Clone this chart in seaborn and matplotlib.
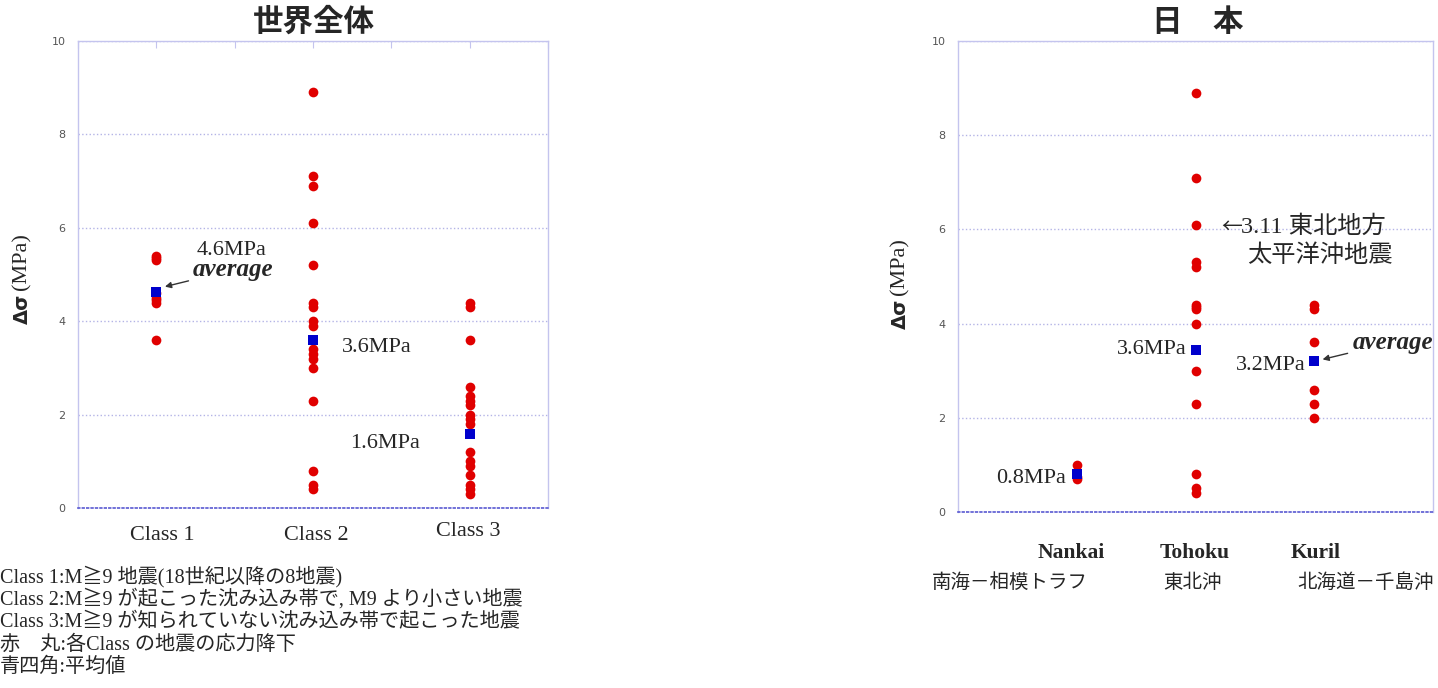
import matplotlib
matplotlib.use("Agg")
import matplotlib.pyplot as plt
import seaborn as sns
import pandas as pd

# --- data ------------------------------------------------------------------
class_names = ["Class 1", "Class 2", "Class 3"]
class1_vals = [5.4, 5.35, 5.3, 4.6, 4.5, 4.45, 4.4, 3.6]
class2_vals = [8.9, 7.1, 6.9, 6.1, 5.2, 4.4, 4.3, 4.0, 3.9, 3.4, 3.3, 3.2, 3.0, 2.3, 0.8, 0.5, 0.4]
class3_vals = [4.4, 4.3, 3.6, 2.6, 2.4, 2.3, 2.2, 2.0, 1.9, 1.8, 1.2, 1.0, 0.9, 0.7, 0.5, 0.4, 0.3]
world_avg = [4.63, 3.6, 1.59]
world_avg_labels = ["4.6MPa", "3.6MPa", "1.6MPa"]

region_names = ["Nankai", "Tohoku", "Kuril"]
region_names_ja = ["南海－相模トラフ", "東北沖", "北海道－千島沖"]
nankai_vals = [1.0, 0.75, 0.7]
tohoku_vals = [8.9, 7.1, 6.1, 5.3, 5.2, 4.4, 4.35, 4.3, 4.0, 3.0, 2.3, 0.8, 0.5, 0.4]
kuril_vals = [4.4, 4.3, 3.6, 2.6, 2.3, 2.0]
japan_avg = [0.8, 3.45, 3.2]
japan_avg_labels = ["0.8MPa", "3.6MPa", "3.2MPa"]

footnotes = [
    "Class 1:M≧9 地震(18世紀以降の8地震)",
    "Class 2:M≧9 が起こった沈み込み帯で, M9 より小さい地震",
    "Class 3:M≧9 が知られていない沈み込み帯で起こった地震",
    "赤　丸:各Class の地震の応力降下",
    "青四角:平均値",
]

RED = "#e00000"
BLUE = "#0000cc"
FRAME = "#c4c4ee"
SERIF = ["Liberation Serif", "Noto Sans CJK JP"]
GOTHIC = ["Noto Sans CJK JP", "DejaVu Sans"]

sns.set_style("white")
plt.rcParams["font.family"] = SERIF

W, H = 1438, 688


def px(x, y):
    return x / W, 1 - y / H


world = pd.DataFrame({
    "group": ["Class 1"] * len(class1_vals) + ["Class 2"] * len(class2_vals) + ["Class 3"] * len(class3_vals),
    "stress": class1_vals + class2_vals + class3_vals,
})
world_mean = pd.DataFrame({"group": class_names, "stress": world_avg})

japan = pd.DataFrame({
    "group": ["Nankai"] * len(nankai_vals) + ["Tohoku"] * len(tohoku_vals) + ["Kuril"] * len(kuril_vals),
    "stress": nankai_vals + tohoku_vals + kuril_vals,
})
japan_mean = pd.DataFrame({"group": region_names, "stress": japan_avg})

fig = plt.figure(figsize=(W / 100, H / 100), dpi=100)
ax1 = fig.add_axes([78 / W, 1 - 508 / H, 470 / W, 467 / H])
ax2 = fig.add_axes([958 / W, 1 - 512 / H, 475 / W, 471 / H])


def style_axes(ax, label_x, label_y):
    ax.set_ylim(0, 10)
    ax.set_yticks([0, 2, 4, 6, 8, 10])
    ax.yaxis.grid(True, color="#b4b4e6", linestyle=":", linewidth=1.0)
    for side in ["top", "left", "right"]:
        ax.spines[side].set_color(FRAME)
        ax.spines[side].set_linewidth(1.0)
    ax.spines["bottom"].set_color("#5a5ad2")
    ax.spines["bottom"].set_linestyle(":")
    ax.spines["bottom"].set_linewidth(1.2)
    ax.tick_params(axis="y", labelsize=8, labelcolor="#555555", color=FRAME, length=3, pad=6)
    ax.tick_params(axis="x", labelbottom=False, color=FRAME, direction="in", length=5, top=True)
    for lab in ax.get_yticklabels():
        lab.set_family(["DejaVu Sans"])
    ax.set_xlabel("")
    ax.set_ylabel("")
    # y label: bold sans "Δσ" followed by serif "(MPa)"
    fig.text(*px(label_x, label_y + 24), "Δσ", rotation=90, fontsize=14, fontweight="bold",
             family=["DejaVu Sans"], ha="center", va="center")
    fig.text(*px(label_x, label_y - 23), "(MPa)", rotation=90, fontsize=16,
             ha="center", va="center")


# left panel: world
sns.stripplot(data=world, x="group", y="stress", order=class_names, jitter=False,
              color=RED, size=7, linewidth=0, ax=ax1, zorder=3)
sns.stripplot(data=world_mean, x="group", y="stress", order=class_names, jitter=False,
              color=BLUE, marker="s", size=7.5, linewidth=0, ax=ax1, zorder=4)
ax1.set_xlim(-0.5, 2.5)
ax1.set_xticks([-0.5, 0, 0.5, 1, 1.5, 2, 2.5])
style_axes(ax1, 22, 285)

ax1.text(0.255, 5.52, world_avg_labels[0], fontsize=16, va="center", ha="left")
ax1.annotate("average", xy=(0.055, 4.74), xytext=(0.235, 5.1), fontsize=18,
             fontweight="bold", fontstyle="italic", va="center", ha="left",
             arrowprops=dict(arrowstyle="-|>", color="#333333", lw=1.0,
                             shrinkA=1, shrinkB=0, mutation_scale=9))
ax1.text(1.185, 3.43, world_avg_labels[1], fontsize=16, va="center", ha="left")
ax1.text(1.68, 1.39, world_avg_labels[2], fontsize=16, va="center", ha="right")

# right panel: Japan
sns.stripplot(data=japan, x="group", y="stress", order=region_names, jitter=False,
              color=RED, size=7, linewidth=0, ax=ax2, zorder=3)
sns.stripplot(data=japan_mean, x="group", y="stress", order=region_names, jitter=False,
              color=BLUE, marker="s", size=7.5, linewidth=0, ax=ax2, zorder=4)
ax2.set_xlim(-1, 3)
ax2.set_xticks([])
style_axes(ax2, 900, 290)

ax2.text(1.22, 6.05, "←", fontsize=15, family=GOTHIC, va="center", ha="left")
ax2.text(1.38, 6.05, "3.11 東北地方", fontsize=17.5, va="center", ha="left")
ax2.text(2.66, 5.45, "太平洋沖地震", fontsize=17.5, va="center", ha="right")
ax2.text(-0.09, 0.72, japan_avg_labels[0], fontsize=16, va="center", ha="right")
ax2.text(0.93, 3.46, japan_avg_labels[1], fontsize=16, va="center", ha="right")
ax2.text(1.93, 3.12, japan_avg_labels[2], fontsize=16, va="center", ha="right")
ax2.annotate("average", xy=(2.07, 3.24), xytext=(2.32, 3.6), fontsize=18,
             fontweight="bold", fontstyle="italic", va="center", ha="left",
             arrowprops=dict(arrowstyle="-|>", color="#333333", lw=1.0,
                             shrinkA=1, shrinkB=0, mutation_scale=9))

# titles
fig.text(*px(314, 22), "世界全体", family=GOTHIC, fontweight="bold", fontsize=22,
         ha="center", va="center")
fig.text(*px(1198, 22), "日　本", family=GOTHIC, fontweight="bold", fontsize=22,
         ha="center", va="center")

# category labels under the axes
for name, x, y in zip(class_names, [162, 316, 468], [536, 536, 531]):
    fig.text(*px(x, y), name, fontsize=16, ha="center", va="center")
for name, ja, x, xj in zip(region_names, region_names_ja, [1071, 1195, 1316], [1010, 1192, 1366]):
    fig.text(*px(x, 553), name, fontsize=15.5, fontweight="bold", ha="center", va="center")
    fig.text(*px(xj, 583), ja, fontsize=14, ha="center", va="center")

# footnotes
for i, line in enumerate(footnotes):
    fig.text(*px(0, 577 + 22.6 * i), line, fontsize=14.5, ha="left", va="center")

fig.savefig("out.png", dpi=100)
